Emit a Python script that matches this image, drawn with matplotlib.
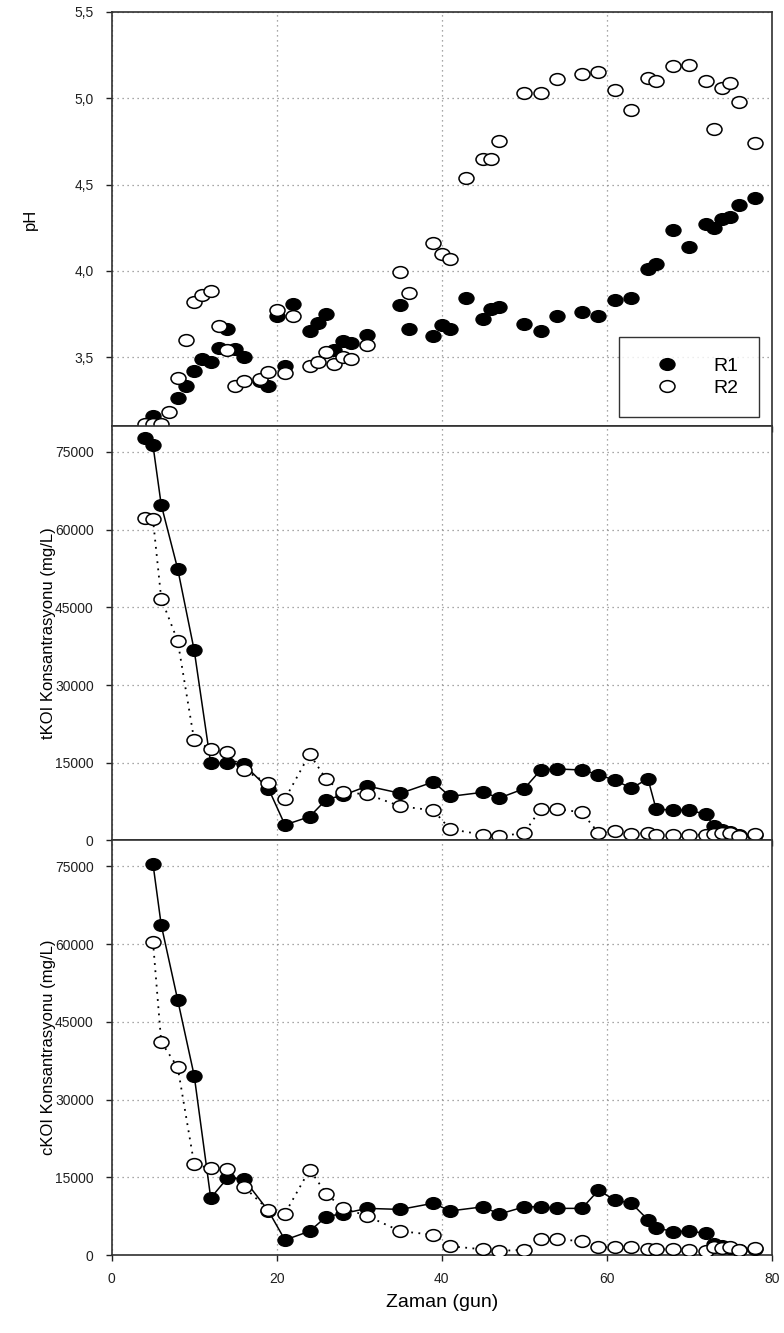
import matplotlib
matplotlib.use("Agg")
import matplotlib.pyplot as plt
from matplotlib.path import Path
from matplotlib.transforms import Affine2D
from matplotlib.ticker import FixedLocator

# pH (only markers)
ph_days_r1 = [5, 8, 9, 10, 11, 12, 13, 14, 15, 16, 18, 19, 20, 21, 22, 24, 25, 26, 27, 28, 29, 31,
              35, 36, 39, 40, 41, 43, 45, 46, 47, 50, 52, 54, 57, 59, 61, 63, 65, 66, 68, 70, 72,
              73, 74, 75, 76, 78]
ph_r1 = [3.16, 3.26, 3.33, 3.42, 3.49, 3.47, 3.55, 3.66, 3.545, 3.50, 3.36, 3.33, 3.74, 3.45, 3.81,
         3.65, 3.70, 3.75, 3.54, 3.59, 3.58, 3.63, 3.80, 3.66, 3.62, 3.685, 3.66, 3.84, 3.72, 3.78,
         3.79, 3.69, 3.65, 3.74, 3.76, 3.74, 3.83, 3.84, 4.01, 4.04, 4.235, 4.14, 4.27, 4.25, 4.30,
         4.31, 4.38, 4.42]
ph_days_r2 = [4, 5, 6, 7, 8, 9, 10, 11, 12, 13, 14, 15, 16, 18, 19, 20, 21, 22, 24, 25, 26, 27, 28,
              29, 31, 35, 36, 39, 40, 41, 43, 45, 46, 47, 50, 52, 54, 57, 59, 61, 63, 65, 66, 68, 70,
              72, 73, 74, 75, 76, 78]
ph_r2 = [3.11, 3.11, 3.11, 3.18, 3.38, 3.60, 3.82, 3.86, 3.88, 3.68, 3.54, 3.33, 3.36, 3.375, 3.415,
         3.77, 3.41, 3.74, 3.45, 3.47, 3.53, 3.46, 3.50, 3.49, 3.57, 3.99, 3.87, 4.16, 4.10, 4.07,
         4.54, 4.645, 4.65, 4.75, 5.03, 5.03, 5.11, 5.14, 5.15, 5.05, 4.93, 5.12, 5.10, 5.185, 5.195,
         5.10, 4.82, 5.06, 5.09, 4.98, 4.74]

# total COD (tKOI)
tkoi_days = [4, 5, 6, 8, 10, 12, 14, 16, 19, 21, 24, 26, 28, 31, 35, 39, 41, 45, 47, 50, 52, 54, 57,
             59, 61, 63, 65, 66, 68, 70, 72, 73, 74, 75, 76, 78]
tkoi_r1 = [77700, 76300, 64800, 52400, 36700, 14900, 14900, 14700, 10000, 3000, 4600, 7900, 8700,
           10500, 9100, 11300, 8500, 9300, 8200, 10000, 13600, 13800, 13600, 12700, 11600, 10100,
           11900, 6000, 5900, 5800, 5100, 2700, 2100, 1600, 1000, 1100]
tkoi_r2 = [62200, 62000, 46700, 38500, 19300, 17600, 17000, 13600, 11000, 8000, 16700, 11800, 9300,
           8900, 6600, 5800, 2200, 1100, 800, 1450, 6100, 6100, 5400, 1450, 1800, 1300, 1450, 1100,
           1100, 1100, 1100, 1300, 1450, 1450, 900, 1300]

# soluble COD (cKOI)
ckoi_days = [5, 6, 8, 10, 12, 14, 16, 19, 21, 24, 26, 28, 31, 35, 39, 41, 45, 47, 50, 52, 54, 57, 59,
             61, 63, 65, 66, 68, 70, 72, 73, 74, 75, 76, 78]
ckoi_r1 = [75500, 63700, 49200, 34600, 11000, 14800, 14700, 8500, 2900, 4600, 7400, 8000, 9000, 8800,
           10000, 8500, 9300, 7900, 9300, 9300, 9000, 9000, 12500, 10600, 10000, 6800, 5300, 4500,
           4600, 4200, 2100, 1700, 1400, 1000, 1100]
ckoi_r2 = [60500, 41100, 36200, 17500, 16700, 16600, 13200, 8700, 8000, 16500, 11800, 9100, 7500,
           4600, 3900, 1700, 1100, 800, 1000, 3000, 3000, 2700, 1500, 1500, 1500, 1100, 1100, 1100,
           1000, 800, 1500, 1300, 1500, 1000, 1300]

x_ticks = [0, 20, 40, 60, 80]
ph_ticks = [3.5, 4.0, 4.5, 5.0, 5.5]
ph_tick_labels = ["3,5", "4,0", "4,5", "5,0", "5,5"]
koi_ticks = [0, 15000, 30000, 45000, 60000, 75000]
koi_tick_labels = ["0", "15000", "30000", "45000", "60000", "75000"]

FONT = "Liberation Sans"
plt.rcParams["font.family"] = [FONT, "DejaVu Sans"]

# the circles in the original are a bit wider than tall
ELLIPSE = Path.unit_circle().transformed(Affine2D().scale(1.28, 1.0))
MS = 10.8


def style_axes(ax, ylim, yticks, ylabels, ylabel, show_x):
    ax.set_xlim(0, 80)
    ax.set_ylim(*ylim)
    ax.xaxis.set_major_locator(FixedLocator(x_ticks))
    ax.set_yticks(yticks)
    ax.set_yticklabels(ylabels)
    ax.grid(True, color="#8a8a8a", linestyle=(0, (1, 3)), linewidth=0.9)
    ax.set_axisbelow(True)
    for s in ax.spines.values():
        s.set_linewidth(1.2)
        s.set_color("#303030")
    ax.tick_params(axis="y", direction="out", length=4, width=1, pad=9,
                   labelsize=10, colors="#202020")
    ax.tick_params(axis="x", direction="out", length=4, width=1, pad=8,
                   labelsize=10, colors="#202020", labelbottom=show_x)
    ax.set_ylabel(ylabel, fontsize=12)


def koi_panel(ax, days, r1, r2, ylabel, show_x):
    ax.plot(days, r1, color="black", linewidth=1.1, marker=ELLIPSE, markersize=MS,
            markerfacecolor="black", markeredgecolor="black", zorder=3)
    ax.plot(days, r2, color="black", linewidth=1.3, linestyle=(0, (1, 3)), marker=ELLIPSE,
            markersize=MS, markerfacecolor="white", markeredgecolor="black",
            markeredgewidth=1.1, zorder=4)
    style_axes(ax, (0, 80000), koi_ticks, koi_tick_labels, ylabel, show_x)
    ax.yaxis.set_label_coords(-0.085, 0.5)


fig = plt.figure(figsize=(7.84, 13.33), dpi=100)
left, width = 0.1425, 0.8418
ax1 = fig.add_axes([left, 0.6804, width, 0.3106])
ax2 = fig.add_axes([left, 0.3695, width, 0.3109])
ax3 = fig.add_axes([left, 0.0585, width, 0.3110])

ax1.plot(ph_days_r1, ph_r1, linestyle="none", marker=ELLIPSE, markersize=MS,
         markerfacecolor="black", markeredgecolor="black", label="R1", zorder=3)
ax1.plot(ph_days_r2, ph_r2, linestyle="none", marker=ELLIPSE, markersize=MS,
         markerfacecolor="white", markeredgecolor="black", markeredgewidth=1.1,
         label="R2", zorder=4)
style_axes(ax1, (3.1, 5.5), ph_ticks, ph_tick_labels, "pH", False)
ax1.yaxis.set_label_coords(-0.112, 0.5)
leg = ax1.legend(loc="lower right", bbox_to_anchor=(0.981, 0.022), fontsize=14,
                 frameon=True, fancybox=False, edgecolor="black", borderpad=1.05,
                 handletextpad=1.0, labelspacing=0.2, handlelength=2.8, borderaxespad=0)
leg.get_frame().set_linewidth(1.0)

koi_panel(ax2, tkoi_days, tkoi_r1, tkoi_r2, "tKOI Konsantrasyonu (mg/L)", False)
koi_panel(ax3, ckoi_days, ckoi_r1, ckoi_r2, "cKOI Konsantrasyonu (mg/L)", True)
ax3.set_xlabel("Zaman (gun)", fontsize=14)
ax3.xaxis.set_label_coords(0.5, -0.094)

fig.savefig("out.png", dpi=100)
